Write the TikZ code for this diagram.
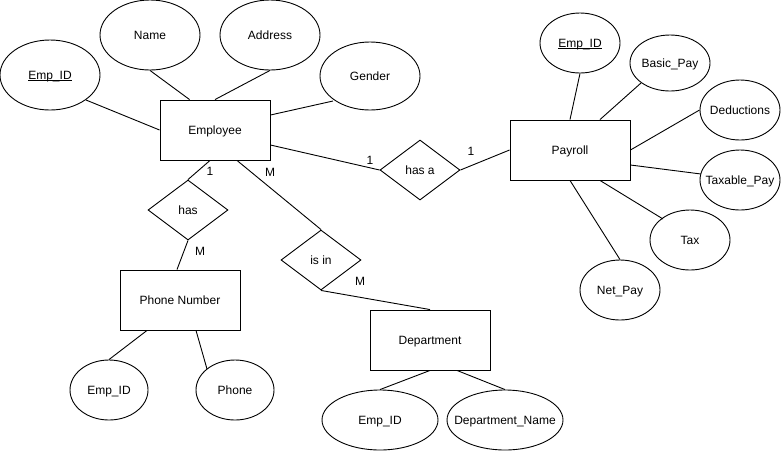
\documentclass[tikz,border=0pt]{standalone}
\usepackage{fontspec}
\setmainfont{Liberation Sans}
\usetikzlibrary{shapes.geometric}
\newcommand{\zb}[1]{\makebox[0pt]{\smash{#1}\rule{0pt}{8.6pt}}}
\newcommand{\ulin}[1]{\setbox0\hbox{#1}\rlap{\rule[-1.3pt]{\wd0}{0.8pt}}\box0}
\begin{document}
\begin{tikzpicture}[x=1pt,y=-1pt,line width=0.9pt,
  every node/.style={font=\fontsize{12}{14}\selectfont},
  ent/.style 2 args={draw,rectangle,inner sep=0pt,minimum width=#1,minimum height=#2},
  attr/.style 2 args={draw,ellipse,inner sep=0pt,minimum width=#1,minimum height=#2},
  rel/.style={draw,diamond,inner sep=0pt,minimum width=80pt,minimum height=60pt},
  card/.style={inner sep=0pt}]
\useasboundingbox (0,0) rectangle (781,451);
% entities
\node[ent={110pt}{60pt}] (emp) at (215,130) {\zb{Employee}};
\node[ent={120pt}{60pt}] (pay) at (570,150) {\zb{Payroll}};
\node[ent={120pt}{60pt}] (phone) at (180,300) {\zb{Phone Number}};
\node[ent={120pt}{60pt}] (dept) at (430,340) {\zb{Department}};
% relationships
\node[rel] (has) at (188,210) {\zb{has}};
\node[rel] (hasa) at (420,170) {\zb{has a}};
\node[rel] (isin) at (321,260) {\zb{is in}};
% attributes
\node[attr={100pt}{70pt}] (eid) at (50,75) {\zb{\ulin{Emp\_ID}}};
\node[attr={100pt}{70pt}] (name) at (150,35) {\zb{Name}};
\node[attr={100pt}{70pt}] (addr) at (270,35) {\zb{Address}};
\node[attr={100pt}{68pt}] (gen) at (370,76) {\zb{Gender}};
\node[attr={80pt}{60pt}] (pid) at (580,43) {\zb{\ulin{Emp\_ID}}};
\node[attr={80pt}{56pt}] (bp) at (670,63) {\zb{Basic\_Pay}};
\node[attr={80pt}{60pt}] (ded) at (740,110) {\zb{Deductions}};
\node[attr={80pt}{60pt}] (tp) at (740,180) {\zb{Taxable\_Pay}};
\node[attr={80pt}{60pt}] (tax) at (690,240) {\zb{Tax}};
\node[attr={80pt}{60pt}] (np) at (620,290) {\zb{Net\_Pay}};
\node[attr={78pt}{60pt}] (phid) at (109,390) {\zb{Emp\_ID}};
\node[attr={78pt}{60pt}] (ph) at (235,390) {\zb{Phone}};
\node[attr={116pt}{60pt}] (did) at (380,420) {\zb{Emp\_ID}};
\node[attr={116pt}{60pt}] (dn) at (505,420) {\zb{Department\_Name}};
% attribute links
\draw ([shift={(36,25)}]eid.center) -- (emp.west);
\draw (name.south) -- ([shift={(30,0)}]emp.north west);
\draw (addr.south) -- (emp.north);
\draw ([shift={(-37,25)}]gen.center) -- ([shift={(0,-15)}]emp.east);
\draw (pay.north) -- (pid.south);
\draw ([shift={(30,0)}]pay.north) -- ([shift={(-29,20)}]bp.center);
\draw (pay.east) -- (ded.west);
\draw ([shift={(0,15)}]pay.east) -- ([shift={(-39,-6)}]tp.center);
\draw ([shift={(30,0)}]pay.south) -- ([shift={(-27,-21)}]tax.center);
\draw (pay.south) -- (np.north);
\draw ([shift={(-33,0)}]phone.south) -- (phid.north);
\draw ([shift={(16,0)}]phone.south) -- ([shift={(-28,-21)}]ph.center);
\draw (dept.south) -- (did.north);
\draw ([shift={(27,0)}]dept.south) -- (dn.north);
% relationship links
\draw ([shift={(0,15)}]emp.east) -- (hasa.west);
\draw (hasa.east) -- (pay.west);
\draw ([shift={(-5,0)}]emp.south) -- (has.north);
\draw (has.south) -- ([shift={(-3,0)}]phone.north);
\draw ([shift={(22,0)}]emp.south) -- (isin.north);
\draw (isin.south) -- (dept.north);
% cardinalities
\node[card] (c1) at (370,160) {\zb{1}};
\node[card] (c2) at (471,151) {\zb{1}};
\node[card] (c3) at (210,171) {\zb{1}};
\node[card] (c4) at (200,251) {\zb{M}};
\node[card] (c5) at (270,172) {\zb{M}};
\node[card] (c6) at (360,281) {\zb{M}};
\end{tikzpicture}
\end{document}
